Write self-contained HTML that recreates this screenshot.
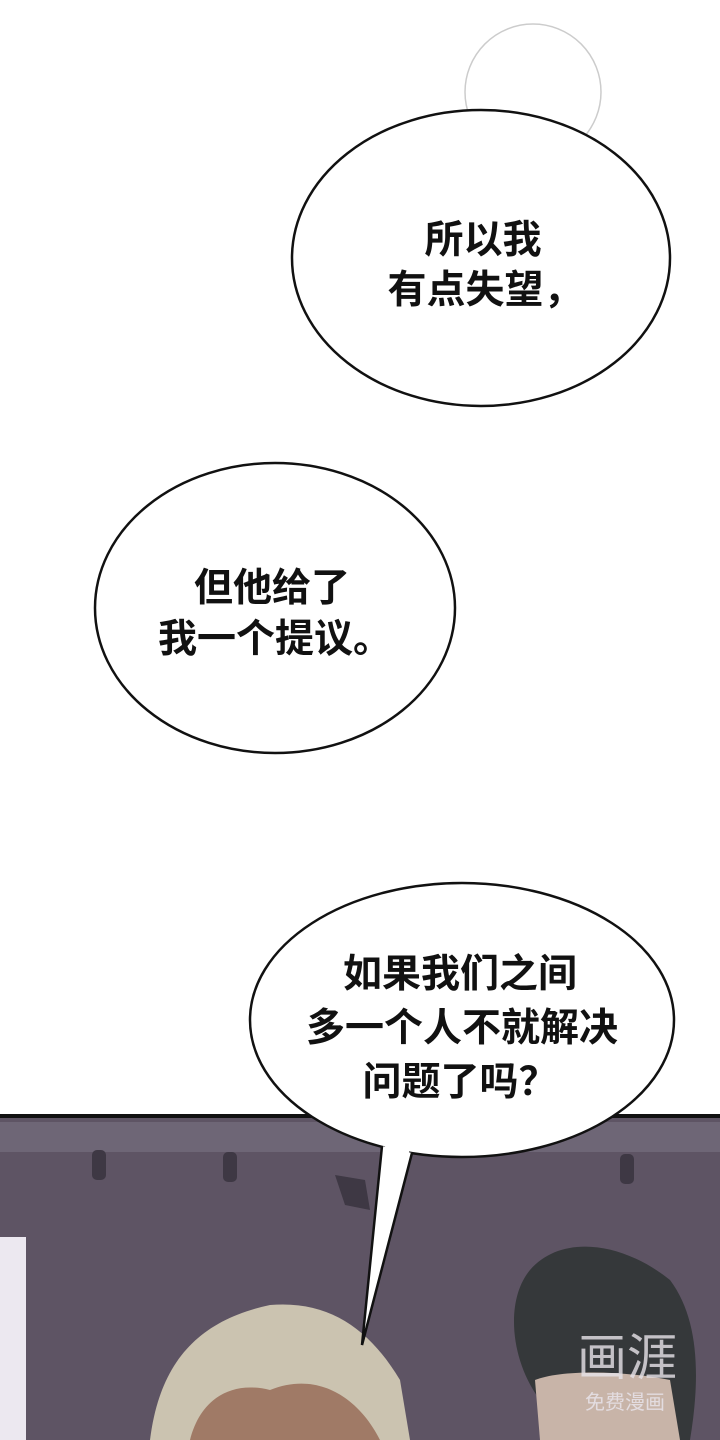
<!DOCTYPE html>
<html><head><meta charset="utf-8"><style>
html,body{margin:0;padding:0;background:#fff;}
svg{display:block}
text{font-family:"Liberation Sans","Noto Sans CJK SC",sans-serif;font-weight:bold;font-size:39px;fill:#111;text-anchor:middle}
</style></head><body>
<svg width="720" height="1440" viewBox="0 0 720 1440" xmlns="http://www.w3.org/2000/svg">
<rect width="720" height="1440" fill="#fff"/>
<circle cx="533" cy="92" r="68" fill="none" stroke="#ccc" stroke-width="1.5"/>
<!-- panel -->
<rect x="0" y="1116" width="720" height="324" fill="#5e5464"/>
<rect x="0" y="1122" width="720" height="30" fill="#6e6676"/>
<line x1="0" y1="1116" x2="720" y2="1116" stroke="#111" stroke-width="4"/>
<rect x="0" y="1237" width="26" height="203" fill="#ece8f0"/>
<rect x="92" y="1150" width="14" height="30" rx="5" fill="#3e3844"/>
<rect x="223" y="1152" width="14" height="30" rx="5" fill="#3e3844"/>
<rect x="620" y="1154" width="14" height="30" rx="5" fill="#3e3844"/>
<path d="M335 1175 L365 1180 L370 1210 L345 1205Z" fill="#3e3844"/>
<!-- blond character -->
<path d="M150 1440 C160 1360 200 1320 270 1305 C330 1300 370 1330 400 1380 L410 1440Z" fill="#cbc3b0"/>
<path d="M190 1440 C200 1400 230 1380 270 1390 C320 1370 360 1400 380 1440Z" fill="#a07a66"/>
<!-- dark character -->
<path d="M560 1440 L540 1400 C510 1360 505 1300 530 1270 C560 1235 620 1240 670 1280 C700 1320 700 1380 690 1440Z" fill="#35383a"/>
<path d="M540 1440 L535 1380 C560 1370 620 1370 670 1380 L680 1440Z" fill="#c8b4a8"/>
<!-- watermark -->
<text x="627" y="1375" style="font-size:50px;fill:#e8e4ea;font-weight:normal;opacity:.8">画涯</text>
<text x="625" y="1409" style="font-size:20px;fill:#e8e4ea;font-weight:normal;opacity:.85">免费漫画</text>
<!-- bubbles -->
<ellipse cx="481" cy="258" rx="189" ry="148" fill="#fff" stroke="#111" stroke-width="2.5"/>
<text x="483" y="253">所以我</text>
<text x="485" y="303">有点失望，</text>
<ellipse cx="275" cy="608" rx="180" ry="145" fill="#fff" stroke="#111" stroke-width="2.5"/>
<text x="272" y="601">但他给了</text>
<text x="275" y="652">我一个提议。</text>
<ellipse cx="462" cy="1020" rx="212" ry="137" fill="#fff" stroke="#111" stroke-width="2.5"/>
<path d="M382 1146 L362 1345 L412 1153" fill="#fff" stroke="#111" stroke-width="2.5" stroke-linejoin="miter"/>
<path d="M384 1140 L410 1148 L408 1156 L386 1152Z" fill="#fff"/>
<text x="460" y="987">如果我们之间</text>
<text x="462" y="1041">多一个人不就解决</text>
<text x="460" y="1095">问题了吗？</text>
</svg>
</body></html>
